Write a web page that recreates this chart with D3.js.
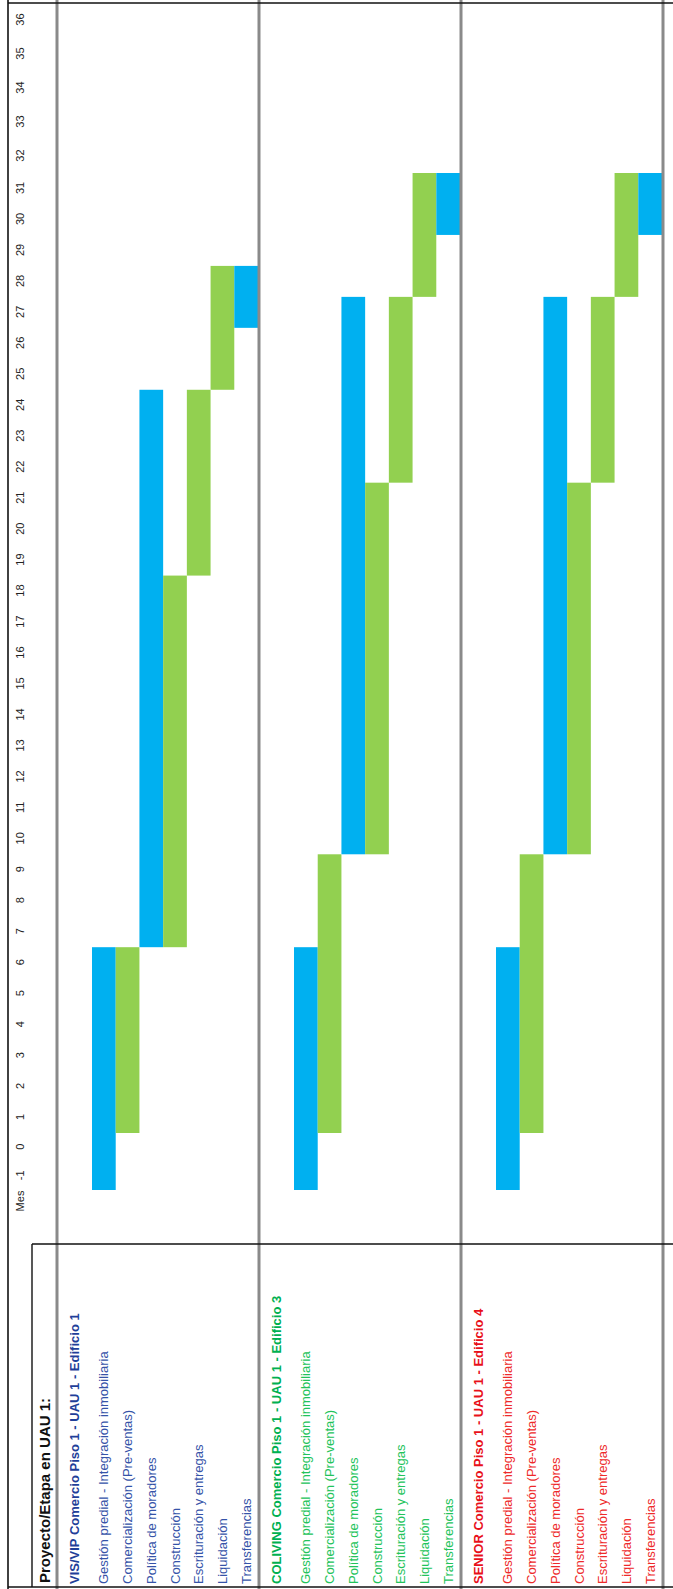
<!DOCTYPE html>
<html>
<head>
<meta charset="utf-8">
<script src="https://cdn.jsdelivr.net/npm/d3@7"></script>
<style>
  html, body { margin: 0; padding: 0; background: #ffffff; }
  svg { display: block; }
  text { font-family: "Liberation Sans Narrow", "Arial Narrow", "Liberation Sans", Arial, sans-serif; }
</style>
</head>
<body>
<svg id="chart" width="673" height="1589"></svg>
<script>
// Timeline header
const monthTicks = [-1, 0, 1, 2, 3, 4, 5, 6, 7, 8, 9, 10, 11, 12, 13, 14, 15, 16, 17, 18,
  19, 20, 21, 22, 23, 24, 25, 26, 27, 28, 29, 30, 31, 32, 33, 34, 35, 36];
const monthHeader = "Mes";
const tableTitle = "Proyecto/Etapa en UAU 1:";

// Projects (one block of rows each)
const projects = [
  "VIS/VIP Comercio Piso 1 - UAU 1 - Edificio 1",
  "COLIVING Comercio Piso 1 - UAU 1 - Edificio 3",
  "SENIOR Comercio Piso 1 - UAU 1 - Edificio 4"
];
const projectColors = ["#1f3f99", "#00b050", "#e8101a"];
const taskColors = ["#3553a8", "#22c35a", "#ee2a2a"];

// Stages of every project
const tasks = [
  "Gestión predial - Integración inmobiliaria",
  "Comercialización (Pre-ventas)",
  "Política de moradores",
  "Construcción",
  "Escrituración y entregas",
  "Liquidación",
  "Transferencias"
];
const taskFill = ["#00b0f0", "#92d050", "#00b0f0", "#92d050", "#92d050", "#92d050", "#00b0f0"];

// First and last month (inclusive) of each stage, per project
const startVIS      = [-1, 1, 7, 7, 19, 25, 27];
const endVIS        = [6, 6, 24, 18, 24, 28, 28];
const startCOLIVING = [-1, 1, 10, 10, 22, 28, 30];
const endCOLIVING   = [6, 9, 27, 21, 27, 31, 31];
const startSENIOR   = [-1, 1, 10, 10, 22, 28, 30];
const endSENIOR     = [6, 9, 27, 21, 27, 31, 31];

const starts = [startVIS, startCOLIVING, startSENIOR];
const ends = [endVIS, endCOLIVING, endSENIOR];

// The sheet is laid out landscape (L x T) and then turned a quarter turn.
const L = 1589, T = 673;
const svg = d3.select("#chart");
const g = svg.append("g").attr("transform", `translate(0,${L}) rotate(-90)`);

// Month columns: first two are a little narrower, the last ones a little wider
const x = d3.scaleLinear()
  .domain([-1, 1, 32, 37])
  .range([399, 456, 1416, 1586]);

const tableTop = 8, titleTop = 32, gridTop = 57;
const labelRight = 345;
const blockH = 202, headH = 35;

const blockY = d3.scaleBand()
  .domain(projects)
  .range([gridTop, gridTop + blockH * projects.length]);

const rowY = d3.scaleBand()
  .domain(tasks)
  .range([headH, blockH - 1]);

// Bars
projects.forEach((p, pi) => {
  const blk = g.append("g").attr("transform", `translate(0,${blockY(p)})`);
  blk.selectAll("rect.bar")
    .data(tasks)
    .join("rect")
    .attr("class", "bar")
    .attr("x", (t, i) => x(starts[pi][i]))
    .attr("width", (t, i) => x(ends[pi][i] + 1) - x(starts[pi][i]))
    .attr("y", t => rowY(t))
    .attr("height", rowY.bandwidth())
    .attr("fill", (t, i) => taskFill[i]);

  // Project header
  blk.append("text")
    .attr("x", 5)
    .attr("y", headH / 2)
    .attr("dy", "0.35em")
    .attr("font-size", 13)
    .attr("font-weight", "bold")
    .attr("fill", projectColors[pi])
    .text(p);

  // Stage names
  blk.selectAll("text.task")
    .data(tasks)
    .join("text")
    .attr("class", "task")
    .attr("x", 5)
    .attr("y", t => rowY(t) + rowY.bandwidth() / 2)
    .attr("dy", "0.35em")
    .attr("font-size", 13)
    .attr("fill", taskColors[pi])
    .text(t => t);
});

// Month header
const monthAxis = d3.axisTop(x.copy())
  .tickValues(monthTicks.map(m => m + 0.5))
  .tickFormat(v => String(v - 0.5))
  .tickSize(0)
  .tickPadding(0);

const axisG = g.append("g")
  .attr("transform", `translate(0,${(tableTop + titleTop) / 2})`)
  .call(monthAxis);
axisG.select(".domain").remove();
axisG.selectAll("text")
  .attr("dy", "0.35em")
  .attr("font-size", 11)
  .attr("fill", "#222")
  .style("font-family", "'Liberation Sans Narrow', 'Liberation Sans', sans-serif");

g.append("text")
  .attr("x", 388)
  .attr("y", (tableTop + titleTop) / 2)
  .attr("dy", "0.35em")
  .attr("text-anchor", "middle")
  .attr("font-size", 11)
  .attr("fill", "#222")
  .text(monthHeader);

g.append("text")
  .attr("x", 6)
  .attr("y", (titleTop + gridTop) / 2)
  .attr("dy", "0.35em")
  .attr("font-size", 15)
  .attr("font-weight", "bold")
  .attr("fill", "#111")
  .text(tableTitle);

// Grey block separators
const sepYs = [gridTop].concat(projects.map(p => blockY(p) + blockH));
g.selectAll("line.sep")
  .data(sepYs)
  .join("line")
  .attr("class", "sep")
  .attr("x1", 0).attr("x2", L)
  .attr("y1", d => d).attr("y2", d => d)
  .attr("stroke", "#8a8a8a")
  .attr("stroke-width", 3);

// Black frame lines
const black = g.append("g").attr("stroke", "#111").attr("fill", "none");
black.append("line").attr("x1", 0).attr("x2", L).attr("y1", tableTop).attr("y2", tableTop).attr("stroke-width", 1.6);
black.append("line").attr("x1", 2).attr("x2", 2).attr("y1", tableTop).attr("y2", T).attr("stroke-width", 1.6);
black.append("line").attr("x1", L - 3).attr("x2", L - 3).attr("y1", tableTop).attr("y2", T).attr("stroke-width", 1.6);
black.append("line").attr("x1", 2).attr("x2", labelRight).attr("y1", titleTop).attr("y2", titleTop).attr("stroke-width", 1.4);
black.append("line").attr("x1", labelRight).attr("x2", labelRight).attr("y1", titleTop).attr("y2", T).attr("stroke-width", 1.4);
</script>
</body>
</html>
